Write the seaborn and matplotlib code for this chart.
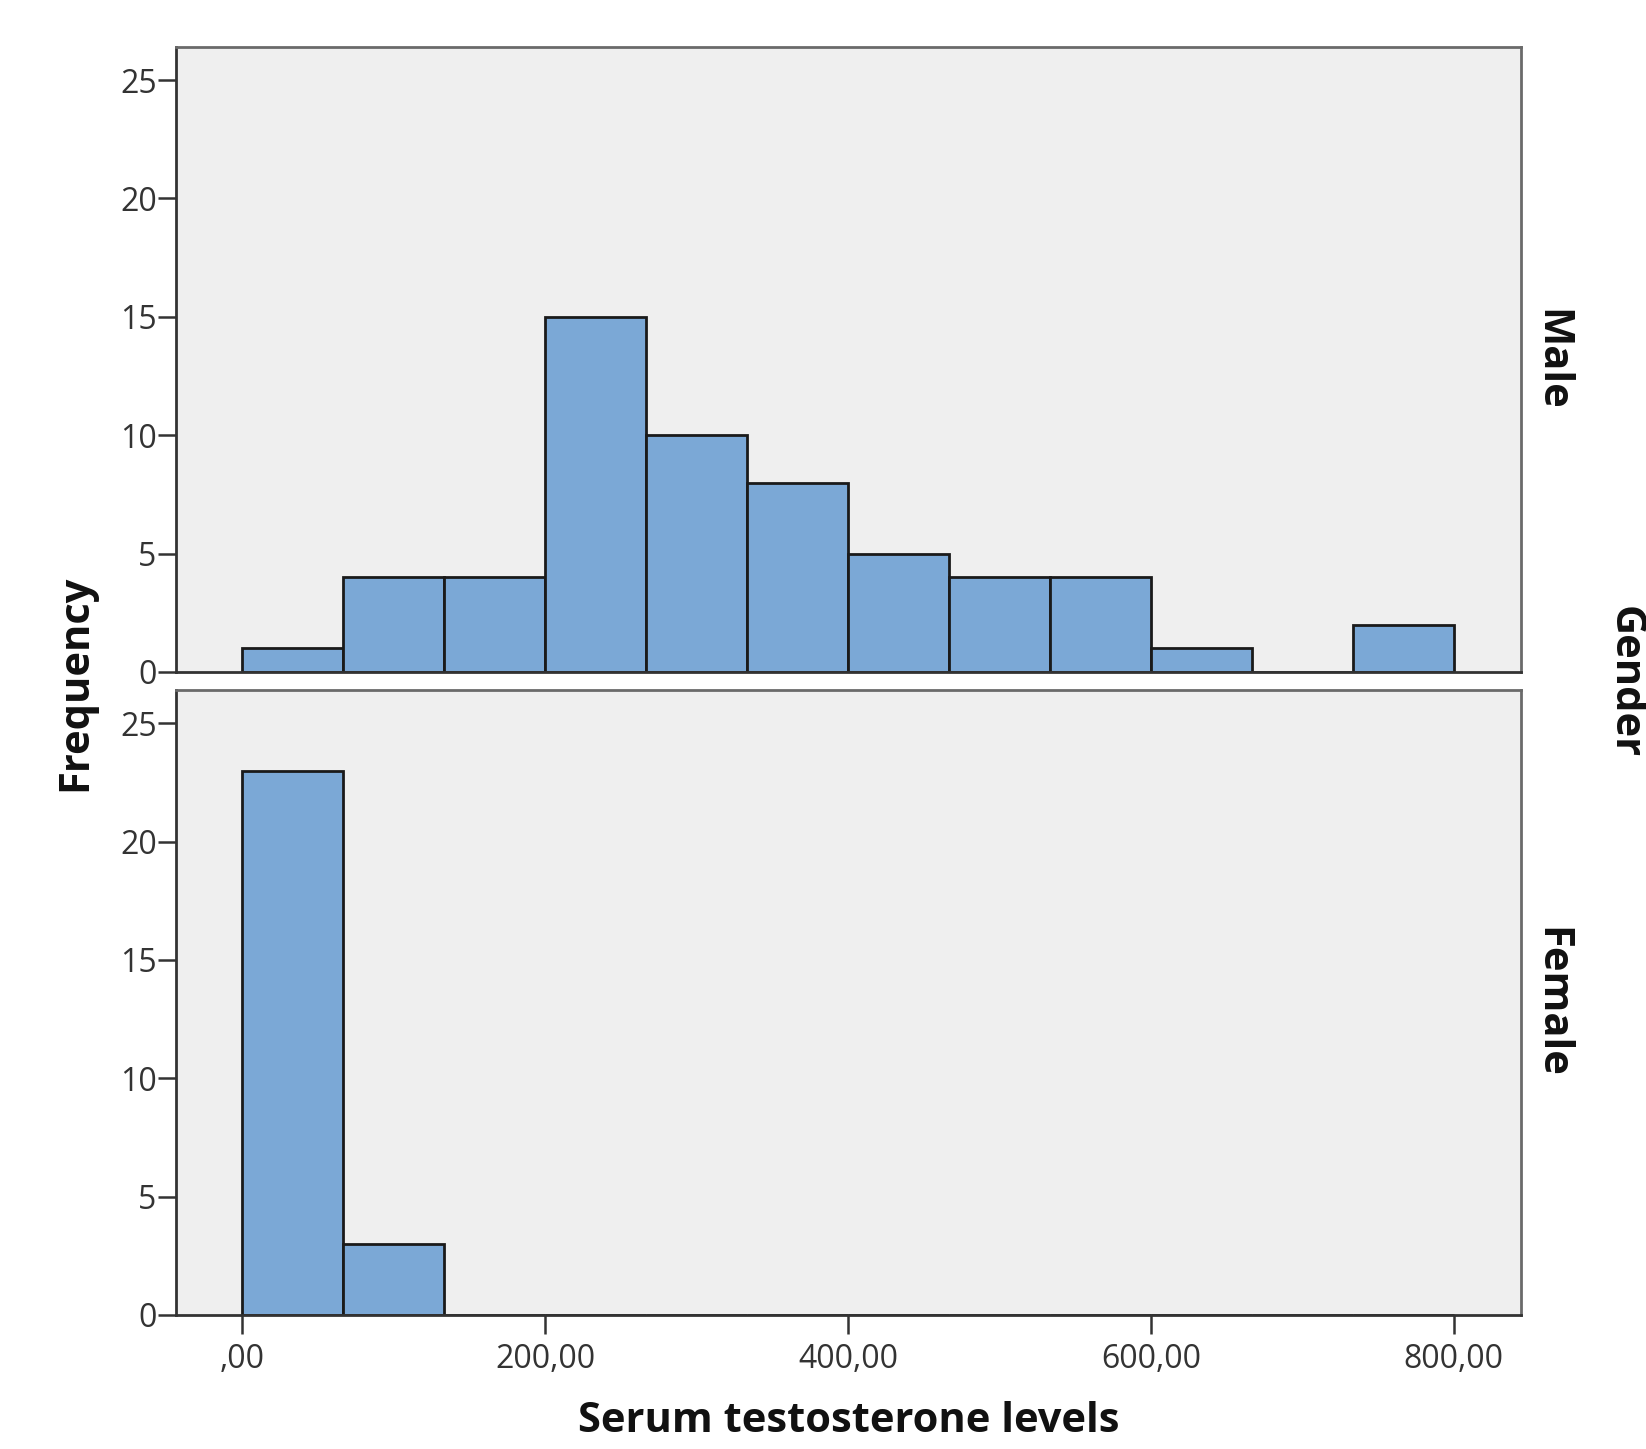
import numpy as np
import pandas as pd
import matplotlib
matplotlib.use("Agg")
import matplotlib.pyplot as plt
import seaborn as sns

# ---- data ----
bin_edges = [0, 66.667, 133.333, 200, 266.667, 333.333, 400, 466.667, 533.333, 600, 666.667, 733.333, 800]
male_counts = [1, 4, 4, 15, 10, 8, 5, 4, 4, 1, 0, 2]
female_counts = [23, 3, 0, 0, 0, 0, 0, 0, 0, 0, 0, 0]
groups = ["Male", "Female"]
x_ticks = [0, 200, 400, 600, 800]
x_tick_labels = [",00", "200,00", "400,00", "600,00", "800,00"]
y_ticks = [0, 5, 10, 15, 20, 25]

sns.set_theme(style="white")
plt.rcParams['font.family'] = ['Open Sans', 'DejaVu Sans']

edges = np.array(bin_edges)
centers = (edges[:-1] + edges[1:]) / 2
frames = []
for g, c in zip(groups, [male_counts, female_counts]):
    frames.append(pd.DataFrame({"value": centers, "count": c, "Gender": g}))
df = pd.concat(frames, ignore_index=True)

fig, axes = plt.subplots(2, 1, figsize=(16.46, 14.49), dpi=100, sharex=True)
fig.subplots_adjust(left=0.107, right=0.924, top=0.9676, bottom=0.0925, hspace=0.029)

bar_color = "#7BA8D6"
for ax, g in zip(axes, groups):
    sub = df[df["Gender"] == g]
    sns.histplot(data=sub, x="value", weights="count", bins=bin_edges, ax=ax,
                 color=bar_color, alpha=1, edgecolor="#1a1a1a", linewidth=2.0)
    ax.set_facecolor("#EFEFEF")
    ax.set_xlim(-43.7, 844.4)
    ax.set_ylim(0, 26.4)
    ax.set_yticks(y_ticks)
    ax.set_yticklabels([str(t) for t in y_ticks])
    ax.set_xlabel("")
    ax.set_ylabel("")
    for side in ["left", "bottom"]:
        ax.spines[side].set_color("#333333")
        ax.spines[side].set_linewidth(2.0)
    for side in ["top", "right"]:
        ax.spines[side].set_color("#6a6a6a")
        ax.spines[side].set_linewidth(2.0)
    ax.tick_params(axis="y", direction="out", length=13, width=1.8, color="#333333",
                   labelsize=23, labelcolor="#333333", pad=1, left=True)
    ax.tick_params(axis="x", direction="out", length=14, width=1.8, color="#333333",
                   labelsize=23, labelcolor="#333333", pad=6, bottom=True)
    ax.text(1.0225, 0.5, g, transform=ax.transAxes, rotation=-90, ha="center", va="center",
            fontsize=30, fontweight="bold", color="#111111")

axes[0].tick_params(axis="x", bottom=False, labelbottom=False)
axes[1].set_xticks(x_ticks)
axes[1].set_xticklabels(x_tick_labels)

fig.text(0.046, 0.529, "Frequency", rotation=90, ha="center", va="center",
         fontsize=30, fontweight="bold", color="#111111")
fig.text(0.987, 0.529, "Gender", rotation=-90, ha="center", va="center",
         fontsize=30, fontweight="bold", color="#111111")
fig.text(0.5155, 0.019, "Serum testosterone levels", ha="center", va="center",
         fontsize=30, fontweight="bold", color="#111111")

fig.savefig("out.png", dpi=100, facecolor="white")
